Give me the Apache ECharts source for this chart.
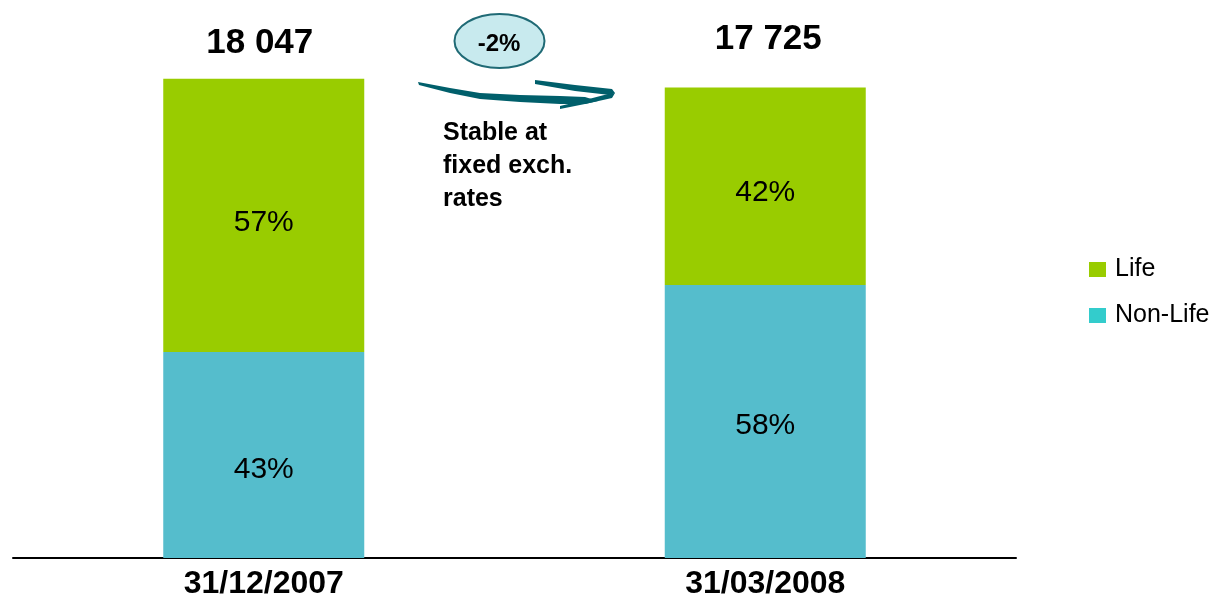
<!DOCTYPE html>
<html><head><meta charset="utf-8">
<script src="https://cdn.jsdelivr.net/npm/echarts@6/dist/echarts.min.js"></script>
<style>html,body{margin:0;padding:0;background:#fff}#c{width:1219px;height:598px}</style>
</head><body><div id="c"></div>
<script>
var categories = ['31/12/2007', '31/03/2008'];
var totals = [18047, 17725];
var lifeShare = [57, 42];
var nonLifeShare = [43, 58];
var lifeValues = [10287, 7445];
var nonLifeValues = [7760, 10280];
var changeLabel = '-2%';
var noteText = 'Stable at\nfixed exch.\nrates';

function fmtTotal(v){ return String(v).replace(/\B(?=(\d{3})+(?!\d))/g, ' '); }

var chart = echarts.init(document.getElementById('c'), null, {renderer:'canvas'});
var font = 'Liberation Sans, Arial, sans-serif';
var teal = '#005F6B';
chart.setOption({
  animation:false,
  textStyle:{fontFamily:font},
  grid:{left:13, right:203, top:27, bottom:40, containLabel:false, outerBoundsMode:'none'},
  legend:{
    orient:'vertical', left:1084, top:252, itemWidth:17, itemHeight:15, itemGap:21,
    textStyle:{fontSize:25, color:'#000', fontFamily:font, padding:[0,0,0,4]},
    data:[{name:'Life', itemStyle:{color:'#99CC00'}},{name:'Non-Life', itemStyle:{color:'#33CCCC'}}],
    icon:'rect'
  },
  xAxis:{type:'category', data:categories,
    axisLine:{lineStyle:{color:'#000', width:2}}, axisTick:{show:false},
    axisLabel:{fontSize:32, fontWeight:'bold', color:'#000', fontFamily:font, margin:10}},
  yAxis:{type:'value', min:0, max:20000, show:false, splitLine:{show:false}},
  series:[
    {name:'Non-Life', type:'bar', stack:'t', barWidth:201,
     itemStyle:{color:'#55BDCC'},
     label:{show:true, position:'inside', fontSize:30, color:'#000',
       formatter:function(p){return nonLifeShare[p.dataIndex]+'%';}},
     data:[{value:nonLifeValues[0], label:{offset:[0,15]}},{value:nonLifeValues[1], label:{offset:[0,4]}}]},
    {name:'Life', type:'bar', stack:'t', barWidth:201,
     itemStyle:{color:'#99CC00'},
     label:{show:true, position:'inside', fontSize:30, color:'#000', offset:[0,7],
       formatter:function(p){return lifeShare[p.dataIndex]+'%';}},
     data:lifeValues},
    {name:'total', type:'bar', stack:'t', barWidth:201, itemStyle:{color:'transparent'},
     label:{show:true, position:'top', fontSize:35, fontWeight:'bold', color:'#000',
       formatter:function(p){return fmtTotal(totals[p.dataIndex]);}},
     data:[{value:0, label:{distance:18, offset:[-4,0]}},{value:0, label:{distance:31, offset:[3,0]}}]}
  ],
  graphic:[
    {type:'ellipse', shape:{cx:499.5, cy:41, rx:45, ry:27},
     style:{fill:'#C8EAEE', stroke:'#1F6A75', lineWidth:2}},
    {type:'text', x:499, y:44, style:{text:changeLabel, fontSize:24, fontWeight:'bold', fill:'#000', align:'center', verticalAlign:'middle', fontFamily:font}},
    {type:'polygon', shape:{points:[[418,82],[450,88],[480,93],[520,95],[560,96],[585,97],[598,101],[585,104],[560,104],[520,102],[480,99],[450,93],[419,85]]},
     style:{fill:teal}},
    {type:'polygon', shape:{points:[[535,80],[575,85],[612,89],[615,93],[610,95],[575,91],[535,84]]},
     style:{fill:teal}},
    {type:'polygon', shape:{points:[[615,93],[612,98],[585,104],[560,109],[560,106],[585,100],[608,94]]},
     style:{fill:teal}},
    {type:'text', x:443, y:117, style:{text:noteText, fontSize:25, fontWeight:'bold', fill:'#000', lineHeight:33, fontFamily:font}}
  ]
});
</script></body></html>
